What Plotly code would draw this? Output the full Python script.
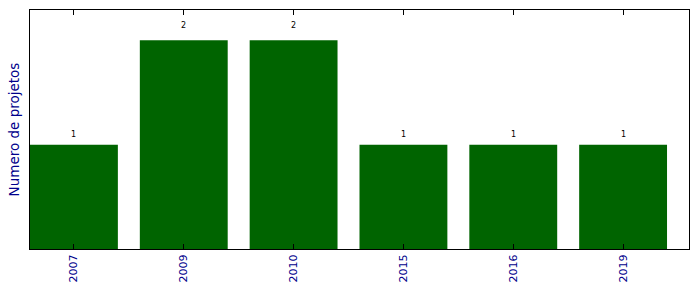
import plotly.graph_objects as go

years = ["2007", "2009", "2010", "2015", "2016", "2019"]
counts = [1, 2, 2, 1, 1, 1]

fig = go.Figure(go.Bar(
    x=years, y=counts,
    marker=dict(color="#006400", line=dict(width=0)),
    width=0.8,
))

for i, c in enumerate(counts):
    fig.add_annotation(
        x=i, y=1.05 * c, xref="x", yref="y", text=str(c), showarrow=False,
        yanchor="bottom", xanchor="center", yshift=-2,
        font=dict(size=8, color="black", family="DejaVu Sans"),
    )

fig.update_layout(
    width=699, height=292,
    margin=dict(l=30, r=10, t=10, b=43),
    plot_bgcolor="white", paper_bgcolor="white",
    showlegend=False,
    font=dict(family="DejaVu Sans"),
)
fig.update_xaxes(
    type="category", range=[-0.4, 5.6],
    ticks="inside", ticklen=5, tickcolor="black", tickwidth=1,
    mirror="ticks", showline=True, linecolor="black", linewidth=1,
    tickangle=-90, tickfont=dict(size=11, color="darkblue"),
    showgrid=False,
)
fig.update_yaxes(
    range=[0, 2.29],
    showticklabels=False, ticks="",
    mirror=True, showline=True, linecolor="black", linewidth=1,
    showgrid=False, zeroline=False,
    title=dict(text="Numero de projetos", font=dict(size=13.5, color="darkblue"), standoff=6),
)

fig.write_html("out.html")
